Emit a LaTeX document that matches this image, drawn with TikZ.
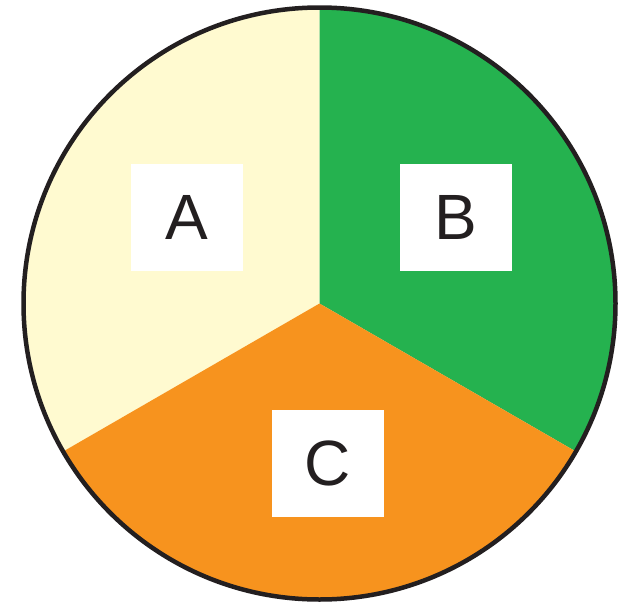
\documentclass[tikz,border=0pt]{standalone}
\usepackage{fontspec}
\setmainfont{Liberation Sans}
\definecolor{cream}{HTML}{FFFAD0}
\definecolor{pgreen}{HTML}{25B24F}
\definecolor{porange}{HTML}{F7931E}
\definecolor{rim}{HTML}{231F20}
\begin{document}
\begin{tikzpicture}[x=1pt,y=-1pt,
  lbl/.style={fill=white,minimum width=112pt,minimum height=107pt,inner sep=0pt,
    font=\fontsize{64}{64}\selectfont,text=rim}]
\useasboundingbox (0,0) rectangle (627,605);
\coordinate (O) at (319.5,303.5);
\def\R{296}
\fill[cream] (O) -- ++(0,-\R) arc[start angle=-90,end angle=-210,radius=\R] -- cycle;
\fill[pgreen] (O) -- ++(0,-\R) arc[start angle=-90,end angle=30,radius=\R] -- cycle;
\fill[porange] (O) -- ++(30:\R) arc[start angle=30,end angle=150,radius=\R] -- cycle;
\draw[rim,line width=4.5pt] (O) circle[radius=\R];
\node[lbl] (a) at (187,217.5) {A};
\node[lbl] (b) at (456,217.5) {B};
\node[lbl] (c) at (328,463.5) {C};
\end{tikzpicture}
\end{document}
